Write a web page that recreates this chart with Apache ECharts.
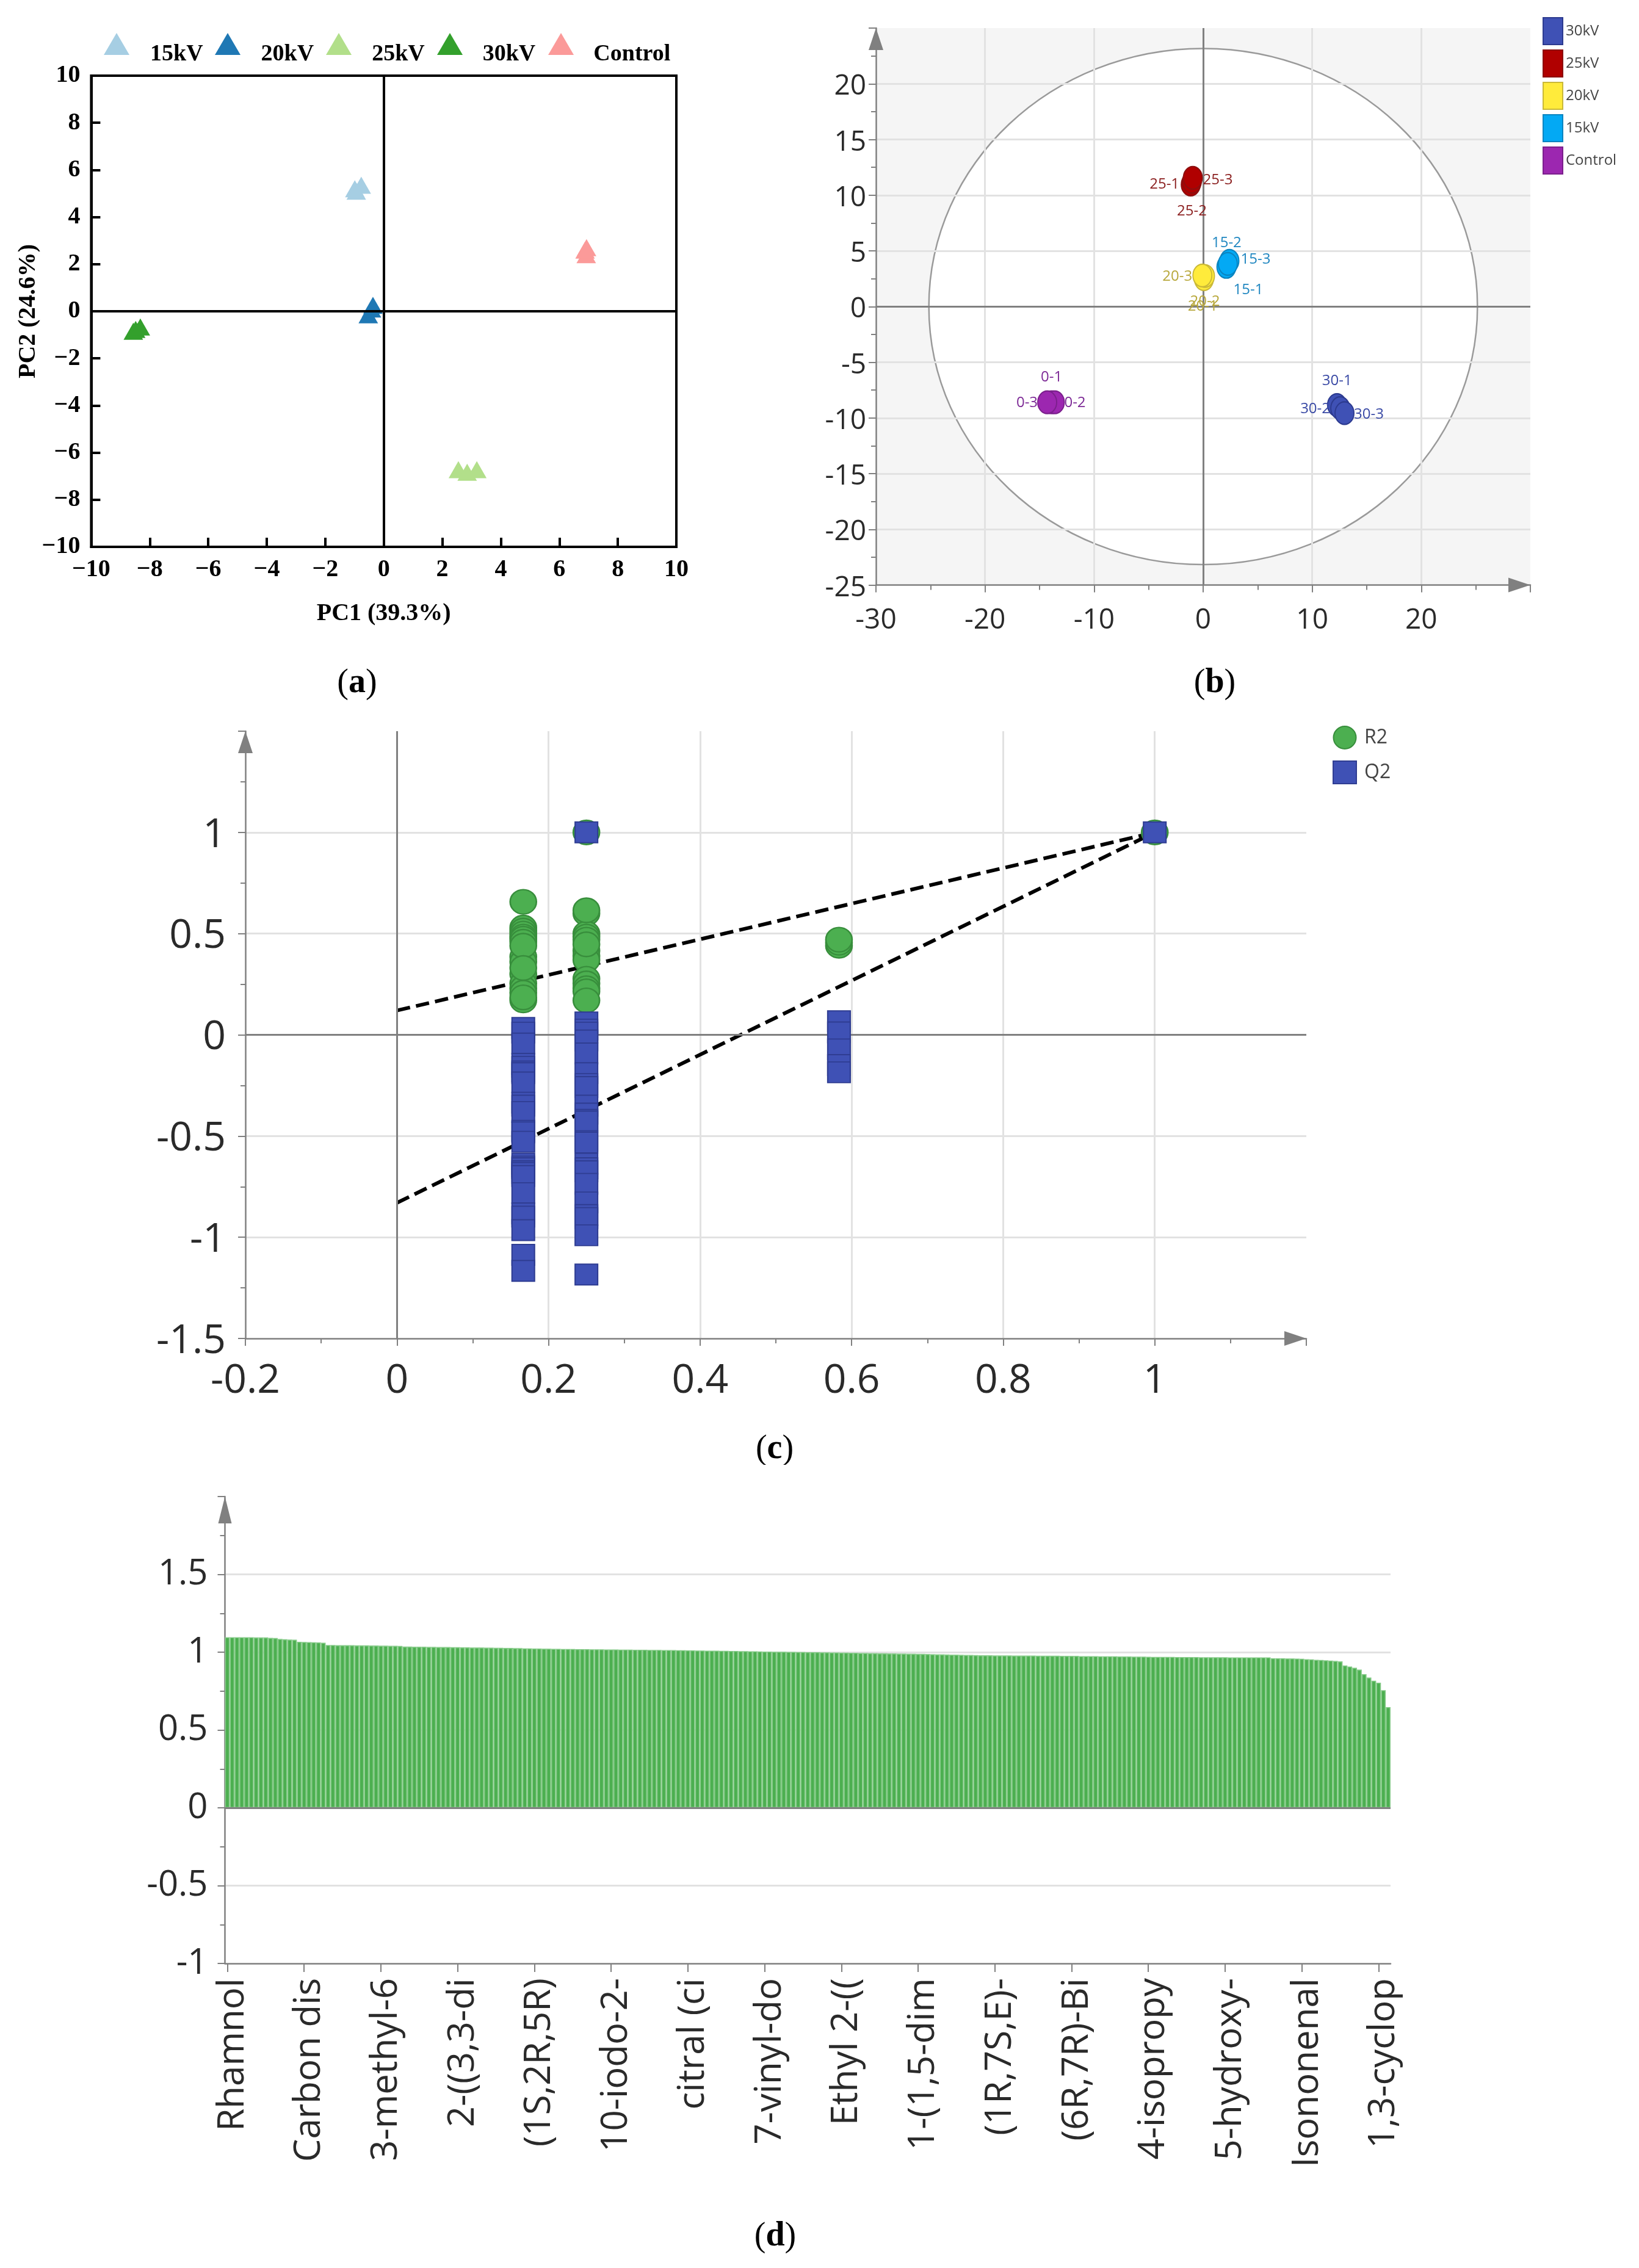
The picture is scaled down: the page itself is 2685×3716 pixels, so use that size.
<!DOCTYPE html>
<html>
<head>
<meta charset="utf-8">
<script src="https://cdn.jsdelivr.net/npm/echarts@6/dist/echarts.min.js"></script>
<style>
  html, body { margin: 0; padding: 0; background: #fff; }
  .panel { position: absolute; }
</style>
</head>
<body>
<div id="panelA" class="panel" style="left:0;top:0;width:1300px;height:1160px"></div>
<div id="panelB" class="panel" style="left:1300px;top:0;width:1385px;height:1160px"></div>
<div id="panelC" class="panel" style="left:0;top:1160px;width:2685px;height:1240px"></div>
<div id="panelD" class="panel" style="left:0;top:2400px;width:2685px;height:1316px"></div>
<script>
// panel a - PCA
var a15kV = [[-0.99, 5.2], [-0.94, 5.1], [-0.77, 5.35]];
var a20kV = [[-0.53, -0.15], [-0.42, 0.1], [-0.37, 0.25]];
var a25kV = [[2.55, -6.72], [2.85, -6.83], [3.18, -6.72]];
var a30kV = [[-8.56, -0.85], [-8.48, -0.77], [-8.32, -0.67]];
var aControl = [[6.92, 2.4], [6.88, 2.6], [6.93, 2.7]];

// panel b - OPLS-DA scores
var b30kV = [[12.27, -8.84], [12.57, -9.12], [12.96, -9.57]];
var b25kV = [[-1.14, 10.95], [-1.04, 11.2], [-0.95, 11.55]];
var b20kV = [[0.07, 2.46], [0.17, 2.74], [-0.07, 2.79]];
var b15kV = [[2.13, 3.56], [2.41, 4.1], [2.26, 3.83]];
var bControl = [[-13.9, -8.6], [-13.6, -8.6], [-14.3, -8.6]];
var bEllipse = [[0, 0, 25.15, 23.17]];

// panel c - permutation test
var cR2Col1 = [0.53, 0.515, 0.5, 0.485, 0.475, 0.46, 0.385, 0.36, 0.3, 0.254, 0.23, 0.208, 0.17, 0.657, 0.44, 0.33, 0.185];
var cR2Col2 = [0.6, 0.5, 0.485, 0.47, 0.415, 0.39, 0.37, 0.277, 0.254, 0.23, 0.215, 1, 0.615, 0.447, 0.17];
var cR2Col3 = [0.44, 0.455, 0.47];
var cR2Col4 = [1];
var cQ2Col1 = [0.034, 0.011, -0.043, -0.143, -0.158, -0.181, -0.189, -0.235, -0.335, -0.35, -0.381, -0.474, -0.482, -0.528, -0.636, -0.651, -0.659, -0.674, -0.682, -0.697, -0.782, -0.882, -0.898, -0.965, -1.087, -1.166];
var cQ2Col2 = [0.061, 0.026, 0.011, -0.028, -0.092, -0.189, -0.243, -0.258, -0.35, -0.389, -0.42, -0.428, -0.525, -0.532, -0.636, -0.659, -0.674, -0.736, -0.828, -0.89, -0.905, -0.99, -1.184, 1];
var cQ2Col3 = [0.067, 0.012, -0.072, -0.149, -0.185];
var cQ2Col4 = [1];
var cColumnX = [0.1667, 0.25, 0.5833, 1];
var cLineR2 = [[0, 0.12], [1, 1]];
var cLineQ2 = [[0, -0.83], [1, 1]];

// panel d - VIP
var dTickLabels = ['Rhamnol', 'Carbon dis', '3-methyl-6', '2-((3,3-di', '(1S,2R,5R)', '10-iodo-2-', 'citral (ci', '7-vinyl-do', 'Ethyl 2-((', '1-(1,5-dim', '(1R,7S,E)-', '(6R,7R)-Bi', '4-isopropy', '5-hydroxy-', 'Isononenal', '1,3-cyclop'];
var dValues = [
  1.096, 1.096, 1.096, 1.096, 1.096, 1.096, 1.095, 1.095, 1.095,
  1.092, 1.091, 1.085, 1.083, 1.081, 1.080,
  1.067, 1.066, 1.065, 1.064, 1.063, 1.061,
  1.046, 1.046, 1.045, 1.045, 1.045, 1.045, 1.044, 1.044, 1.044, 1.043, 1.043, 1.042, 1.042, 1.041, 1.041, 1.040,
  1.036, 1.036, 1.035, 1.035, 1.035, 1.034, 1.034, 1.033, 1.033, 1.033,
  1.032, 1.032, 1.031, 1.031, 1.030, 1.030, 1.030, 1.029, 1.029, 1.028,
  1.028, 1.027, 1.027, 1.026, 1.026, 1.025, 1.025, 1.024, 1.024, 1.023, 1.023,
  1.022, 1.022, 1.021, 1.021, 1.021, 1.020, 1.020, 1.020, 1.019, 1.019,
  1.019, 1.018, 1.018, 1.018, 1.017, 1.017, 1.017, 1.016, 1.016, 1.016,
  1.015, 1.015, 1.015, 1.014, 1.014, 1.014, 1.013, 1.013,
  1.012, 1.012, 1.011, 1.011, 1.010, 1.010, 1.010, 1.009, 1.009, 1.008,
  1.008, 1.007, 1.007, 1.006, 1.006, 1.005,
  1.004, 1.004, 1.003, 1.003, 1.003, 1.002, 1.002, 1.001, 1.001, 1.000,
  1.000, 1.000, 0.999, 0.999, 0.998, 0.998, 0.997, 0.997,
  0.996, 0.996, 0.995, 0.995, 0.994, 0.994, 0.993, 0.993, 0.992, 0.992,
  0.991, 0.991, 0.990, 0.990, 0.989, 0.989, 0.988, 0.987,
  0.986, 0.986, 0.985, 0.984, 0.984, 0.983, 0.982, 0.982, 0.981,
  0.980, 0.980, 0.980, 0.979, 0.979, 0.979, 0.979, 0.978, 0.978, 0.978,
  0.978, 0.978, 0.977, 0.977, 0.977, 0.977, 0.977, 0.976,
  0.976, 0.976, 0.976, 0.975, 0.975, 0.975, 0.975, 0.974, 0.974, 0.974,
  0.974, 0.973, 0.973, 0.973, 0.972, 0.972, 0.972, 0.971,
  0.970, 0.970, 0.970, 0.970, 0.970, 0.969, 0.969, 0.969, 0.969, 0.969,
  0.968, 0.968, 0.968, 0.968, 0.968, 0.968, 0.967, 0.967, 0.967, 0.967,
  0.967, 0.967, 0.967, 0.967, 0.967,
  0.961, 0.961, 0.961, 0.960, 0.960, 0.959, 0.958, 0.955, 0.954, 0.951,
  0.950, 0.948, 0.946, 0.944, 0.941,
  0.915, 0.908, 0.900, 0.888, 0.859, 0.837, 0.817, 0.804, 0.756, 0.647
];

var ELLIPSE = 'path://M1,0A1,1,0,1,1,-1,0A1,1,0,1,1,1,0Z';
var SERIF = '"Liberation Serif", serif';
var SANS = '"Open Sans", sans-serif';
var AXIS_GRAY = '#808080';
var GRID_GRAY = '#e2e2e2';
var LABEL_DARK = '#2a2a2a';

function caption(letter, x, y) {
    return {
        text: '{r|(}{b|' + letter + '}{r|)}',
        left: x,
        top: y,
        textAlign: 'center',
        textStyle: {
            fontWeight: 'normal',
            rich: {
                r: { fontFamily: SERIF, fontSize: 56, fontWeight: 'normal', color: '#000' },
                b: { fontFamily: SERIF, fontSize: 56, fontWeight: 'bold', color: '#000' }
            }
        }
    };
}

function zeroLines(data) {
    return {
        silent: true,
        symbol: 'none',
        animation: false,
        label: { show: false },
        lineStyle: { color: AXIS_GRAY, width: 3, type: 'solid' },
        data: data
    };
}

function grayAxis(font, fontSize, margin) {
    return {
        type: 'value',
        axisLine: {
            show: true,
            onZero: false,
            lineStyle: { color: AXIS_GRAY, width: 2.5 },
            symbol: ['none', 'triangle'],
            symbolSize: [24, 36],
            symbolOffset: [0, -18]
        },
        axisTick: { show: true, length: 12, lineStyle: { color: AXIS_GRAY, width: 2 } },
        minorTick: { show: true, splitNumber: 2, length: 8, lineStyle: { color: AXIS_GRAY, width: 2 } },
        splitLine: { show: true, showMinLine: false, showMaxLine: false, lineStyle: { color: GRID_GRAY, width: 3 } },
        axisLabel: { fontFamily: font, fontSize: fontSize, color: LABEL_DARK, margin: margin, showMaxLabel: false }
    };
}

// axis labels in the reference sit a little off their ticks, a padded rich token moves them
function shiftLabel(axisLabel, pad) {
    axisLabel.formatter = '{t|{value}}';
    axisLabel.rich = {
        t: {
            fontFamily: axisLabel.fontFamily,
            fontSize: axisLabel.fontSize,
            color: axisLabel.color,
            padding: [pad, 0, 0, 0]
        }
    };
}

function setPanelA() {
    var myChart = echarts.init(document.getElementById('panelA'));
    var boldAxis = function (name, nameGap, nameRotate) {
        return {
            type: 'value',
            min: -10,
            max: 10,
            interval: 2,
            name: name,
            nameLocation: 'middle',
            nameGap: nameGap,
            nameRotate: nameRotate,
            nameMoveOverlap: false,
            nameTextStyle: { fontFamily: SERIF, fontWeight: 'bold', fontSize: 40, color: '#000' },
            axisLine: { show: true, onZero: false, lineStyle: { color: '#000', width: 4 } },
            axisTick: { show: true, inside: true, length: 15, lineStyle: { color: '#000', width: 4 } },
            splitLine: { show: false },
            axisLabel: {
                fontFamily: SERIF,
                fontWeight: 'bold',
                fontSize: 40,
                color: '#000',
                margin: 18,
                formatter: function (v) { return v < 0 ? '\u2212' + Math.abs(v) : String(v); }
            }
        };
    };
    var scatter = function (name, data, color) {
        return {
            name: name,
            type: 'scatter',
            symbol: 'triangle',
            symbolSize: [32, 28],
            itemStyle: { color: color, opacity: 1 },
            data: data,
            z: 3
        };
    };
    var series = [
        scatter('15kV', a15kV, '#a6cee3'),
        scatter('20kV', a20kV, '#1f78b4'),
        scatter('25kV', a25kV, '#b2df8a'),
        scatter('30kV', a30kV, '#33a02c'),
        scatter('Control', aControl, '#fb9a99')
    ];
    series[0].markLine = zeroLines([{ xAxis: 0 }, { yAxis: 0 }]);
    series[0].markLine.lineStyle = { color: '#000', width: 4, type: 'solid' };
    var names = ['15kV', '20kV', '25kV', '30kV', 'Control'];
    var option = {
        animation: false,
        title: caption('a', 580, 1087),
        // the legend text sits lower than its triangles, so icons and text are two legends
        legend: [
            {
                left: 165,
                top: 49,
                icon: 'triangle',
                itemWidth: 42,
                itemHeight: 36,
                itemGap: 140,
                data: names,
                formatter: function () { return ''; }
            },
            {
                left: 236,
                top: 64,
                icon: 'triangle',
                itemWidth: 0,
                itemHeight: 40,
                itemGap: 90,
                data: names,
                itemStyle: { opacity: 0 },
                textStyle: { fontFamily: SERIF, fontWeight: 'bold', fontSize: 38, color: '#000' }
            }
        ],
        grid: { left: 149.4, top: 124, width: 958.6, height: 772, show: true, borderColor: '#000', borderWidth: 4 },
        xAxis: boldAxis('PC1 (39.3%)', 90, 0),
        yAxis: boldAxis('PC2 (24.6%)', 83, 90),
        series: series
    };
    myChart.setOption(option);
}

function setPanelB() {
    var myChart = echarts.init(document.getElementById('panelB'));
    var pointNames = {
        '30kV': ['30-1', '30-2', '30-3'],
        '25kV': ['25-1', '25-2', '25-3'],
        '20kV': ['20-1', '20-2', '20-3'],
        '15kV': ['15-1', '15-3', '15-2'],
        'Control': ['0-1', '0-2', '0-3']
    };
    // where each sample label sits relative to its marker, in px
    var labelOffsets = {
        '30kV': [[0, -39], [-41, 1], [40, 2]],
        '25kV': [[-43, 0], [0, 48], [41, 4]],
        '20kV': [[-2, 45], [0, 42], [-41, 2]],
        '15kV': [[36, 38], [43, -2], [-2, -34]],
        'Control': [[0, -41], [33, 1], [-33, 1]]
    };
    var scatter = function (name, data, color, border, text) {
        return {
            name: name,
            type: 'scatter',
            symbol: ELLIPSE,
            symbolSize: [31, 37],
            itemStyle: { color: color, borderColor: border, borderWidth: 2, opacity: 1 },
            z: 5,
            data: data.map(function (p, i) {
                return {
                    value: p,
                    label: {
                        show: true,
                        position: 'inside',
                        formatter: pointNames[name][i],
                        offset: labelOffsets[name][i],
                        fontFamily: SANS,
                        fontSize: 24,
                        color: text
                    }
                };
            })
        };
    };
    var xAxis = grayAxis(SANS, 46, 35);
    xAxis.min = -30;
    xAxis.max = 30;
    xAxis.interval = 10;
    xAxis.z = 2;
    var yAxis = grayAxis(SANS, 46, 16);
    yAxis.min = -25;
    yAxis.max = 25;
    yAxis.interval = 5;
    yAxis.z = 2;
    shiftLabel(yAxis.axisLabel, 10);
    var option = {
        animation: false,
        title: caption('b', 685, 1087),
        legend: {
            left: 1222,
            top: 23,
            orient: 'vertical',
            icon: 'rect',
            itemWidth: 32,
            itemHeight: 44,
            itemGap: 7,
            data: ['30kV', '25kV', '20kV', '15kV', 'Control'],
            textStyle: { fontFamily: SANS, fontSize: 24, color: '#444' }
        },
        grid: { left: 135, top: 46, width: 1072, height: 912.5, show: true, backgroundColor: '#f5f5f5', borderWidth: 0 },
        xAxis: xAxis,
        yAxis: yAxis,
        series: [
            {
                type: 'custom',
                z: 1,
                silent: true,
                encode: { x: 0, y: 1 },
                data: bEllipse,
                renderItem: function (params, api) {
                    var center = api.coord([api.value(0), api.value(1)]);
                    var size = api.size([api.value(2), api.value(3)]);
                    return {
                        type: 'ellipse',
                        shape: { cx: center[0], cy: center[1], rx: size[0], ry: size[1] },
                        style: { fill: '#fff', stroke: '#9a9a9a', lineWidth: 2.5 }
                    };
                },
                markLine: zeroLines([{ xAxis: 0 }, { yAxis: 0 }])
            },
            scatter('30kV', b30kV, '#3f51b5', '#2c3a8f', '#3a4aa5'),
            scatter('25kV', b25kV, '#b00000', '#8c0f0f', '#8b1f1f'),
            scatter('20kV', b20kV, '#ffeb3b', '#c9b838', '#b8a83c'),
            scatter('15kV', b15kV, '#03a9f4', '#0a84c0', '#1f86c0'),
            scatter('Control', bControl, '#9c27b0', '#7b1f8c', '#7d2a96')
        ]
    };
    myChart.setOption(option);
}

function setPanelC() {
    var myChart = echarts.init(document.getElementById('panelC'));
    var column = function (x, values) {
        return values.map(function (v) { return [x, v]; });
    };
    var r2Data = column(cColumnX[0], cR2Col1)
        .concat(column(cColumnX[1], cR2Col2))
        .concat(column(cColumnX[2], cR2Col3))
        .concat(column(cColumnX[3], cR2Col4));
    var q2Data = column(cColumnX[0], cQ2Col1)
        .concat(column(cColumnX[1], cQ2Col2))
        .concat(column(cColumnX[2], cQ2Col3))
        .concat(column(cColumnX[3], cQ2Col4));
    var dashed = function (data) {
        return {
            type: 'line',
            data: data,
            symbol: 'none',
            z: 3,
            lineStyle: { color: '#000', width: 6, type: [22, 10] }
        };
    };
    var xAxis = grayAxis(SANS, 66, 37);
    xAxis.min = -0.2;
    xAxis.max = 1.2;
    xAxis.interval = 0.2;
    var yAxis = grayAxis(SANS, 66, 32);
    yAxis.min = -1.5;
    yAxis.max = 1.5;
    yAxis.interval = 0.5;
    shiftLabel(yAxis.axisLabel, 10);
    var option = {
        animation: false,
        title: caption('c', 1264, 1182),
        legend: {
            left: 2178,
            top: 24,
            orient: 'vertical',
            itemWidth: 38,
            itemHeight: 37,
            itemGap: 18,
            data: [{ name: 'R2', icon: ELLIPSE }, { name: 'Q2', icon: 'rect' }],
            textStyle: { fontFamily: SANS, fontSize: 32, color: '#444', padding: [0, 0, 0, 8] }
        },
        grid: { left: 402, top: 38, width: 1738, height: 995 },
        xAxis: xAxis,
        yAxis: yAxis,
        series: [
            {
                type: 'line',
                silent: true,
                data: [],
                z: 2,
                markLine: zeroLines([{ xAxis: 0 }, { yAxis: 0 }])
            },
            dashed(cLineR2),
            dashed(cLineQ2),
            {
                name: 'R2',
                type: 'scatter',
                symbol: ELLIPSE,
                symbolSize: [43, 40],
                z: 4,
                itemStyle: { color: '#4caf50', borderColor: '#388e3c', borderWidth: 2.5, opacity: 1 },
                data: r2Data
            },
            {
                name: 'Q2',
                type: 'scatter',
                symbol: 'rect',
                symbolSize: [37, 34],
                z: 5,
                itemStyle: { color: '#3f51b5', borderColor: '#2f3d92', borderWidth: 2, opacity: 1 },
                data: q2Data
            }
        ]
    };
    myChart.setOption(option);
}

function setPanelD() {
    var myChart = echarts.init(document.getElementById('panelD'));
    var categories = dValues.map(function (v, i) {
        return i % 16 === 0 ? dTickLabels[i / 16] : '';
    });
    var yAxis = grayAxis(SANS, 58, 28);
    yAxis.min = -1;
    yAxis.max = 2;
    yAxis.interval = 0.5;
    yAxis.axisLine.symbolSize = [22, 44];
    yAxis.axisLine.symbolOffset = [0, -22];
    var xLabel = {
        interval: 15,
        rotate: 90,
        fontFamily: SANS,
        fontSize: 60,
        color: LABEL_DARK,
        margin: 24
    };
    shiftLabel(xLabel, 18);
    var option = {
        animation: false,
        title: caption('d', 1265, 1232),
        grid: { left: 368.5, top: 52, width: 1909.5, height: 765 },
        xAxis: {
            type: 'category',
            data: categories,
            axisLine: { show: true, onZero: false, lineStyle: { color: AXIS_GRAY, width: 2.5 } },
            axisTick: { show: true, interval: 15, alignWithLabel: true, length: 14, lineStyle: { color: AXIS_GRAY, width: 2 } },
            splitLine: { show: false },
            axisLabel: xLabel
        },
        yAxis: yAxis,
        series: [{
            name: 'VIP',
            type: 'bar',
            data: dValues,
            barCategoryGap: 0,
            itemStyle: { color: '#4caf50', borderColor: '#86cb89', borderWidth: 1.6 },
            markLine: zeroLines([{ yAxis: 0 }])
        }]
    };
    myChart.setOption(option);
}

setPanelA();
setPanelB();
setPanelC();
setPanelD();
</script>
</body>
</html>
